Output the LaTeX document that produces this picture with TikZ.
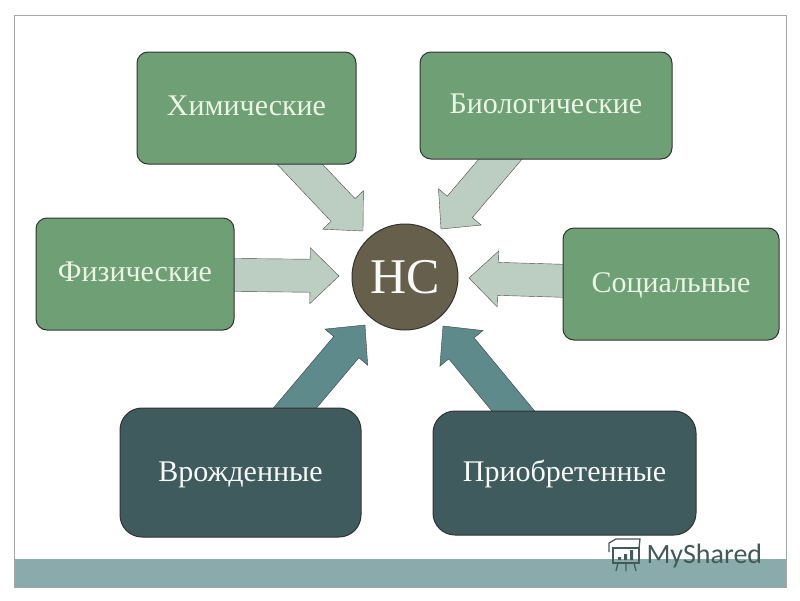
\documentclass[tikz,border=0pt]{standalone}
\usepackage{fontspec}
\setmainfont{Liberation Serif}
\newfontfamily\logofont{Carlito}
\usetikzlibrary{calc,backgrounds}
\definecolor{boxgreen}{HTML}{6E9F75}
\definecolor{boxdark}{HTML}{3F5B5E}
\definecolor{arrowlight}{HTML}{BBCEC1}
\definecolor{arrowdark}{HTML}{5F8A8C}
\definecolor{coreolive}{HTML}{665F4B}
\definecolor{barteal}{HTML}{8AABAB}
\definecolor{framegray}{HTML}{A3A8A6}
\definecolor{textpale}{HTML}{EAF5E4}
\definecolor{logogray}{HTML}{44595A}
\newcommand{\lowered}[2]{\raisebox{-#1pt}[0pt][0pt]{#2}}
\newcommand{\blockarrow}[3]{
  \coordinate (#2base) at ($(#3)!29pt!(#2)$);
  \draw[#1] ($(#2)!16.5pt!90:(#3)$) -- ($(#2base)!16.5pt!90:(#3)$)
    -- ($(#2base)!28pt!90:(#3)$) -- (#3) -- ($(#2base)!28pt!-90:(#3)$)
    -- ($(#2base)!16.5pt!-90:(#3)$) -- ($(#2)!16.5pt!-90:(#3)$) -- cycle;
}
\begin{document}
\begin{tikzpicture}[x=1pt, y=-1pt, line width=1pt,
    greenbox/.style={draw=black!80, fill=boxgreen, rounded corners=11pt, text=textpale,
      inner sep=0, font=\fontsize{30}{30}\selectfont},
    darkbox/.style={draw=black!80, fill=boxdark, rounded corners=22pt, text=white!95!boxgreen,
      inner sep=0, font=\fontsize{30}{30}\selectfont},
    lightarrow/.style={draw=black!70, fill=arrowlight},
    darkarrow/.style={draw=black!75, fill=arrowdark}]
  \useasboundingbox (0,0) rectangle (800,600);
  \fill[barteal] (14,559) rectangle (786,587);
  \draw[framegray, line width=1pt] (14,15) rectangle (786,587);

  \node[greenbox, minimum width=219pt, minimum height=112pt] (chem) at (246.5,108) {\lowered{7}{Химические}};
  \node[greenbox, minimum width=252pt, minimum height=107pt] (bio) at (546,105.5) {\lowered{7.5}{Биологические}};
  \node[greenbox, minimum width=198pt, minimum height=112pt] (phys) at (135,274) {\lowered{7}{Физические}};
  \node[greenbox, minimum width=216pt, minimum height=112pt] (soc) at (671,284) {\lowered{8}{Социальные}};
  \node[darkbox, minimum width=241pt, minimum height=129pt] (innate) at (240.5,472.5) {\lowered{8.5}{Врожденные}};
  \node[darkbox, minimum width=263pt, minimum height=124pt] (acquired) at (564.5,473) {\lowered{8}{Приобретенные}};
  \node[circle, draw=black!80, fill=coreolive, minimum size=106pt, inner sep=0, text=white!95!boxgreen,
    font=\fontsize{50}{50}\selectfont] (hc) at (405,277) {НС};

  \coordinate (chemtip) at (363,231);
  \coordinate (biotip) at (441,229);
  \coordinate (physhead) at (339,276);
  \coordinate (sochead) at (469,278);
  \coordinate (innatetip) at (365,325);
  \coordinate (acquiredtip) at (443,326);

  \begin{scope}[on background layer]
    \blockarrow{lightarrow}{chem}{chemtip}
    \blockarrow{lightarrow}{bio}{biotip}
    \blockarrow{lightarrow}{phys}{physhead}
    \blockarrow{lightarrow}{soc}{sochead}
    \blockarrow{darkarrow}{innate}{innatetip}
    \blockarrow{darkarrow}{acquired}{acquiredtip}
  \end{scope}

  % logo
  \node[anchor=base west, inner sep=0, text=logogray, font=\logofont\fontsize{28}{28}\selectfont] (logo) at (646,563) {MyShared};
  \draw[logogray, line width=1.3pt] (613,548) rectangle (639,563);
  \draw[logogray, line width=1.3pt] (609,552) -- (609,543) -- (616,539) -- (640,539) -- (639,548);
  \draw[logogray, line width=1.3pt] (618,563) -- (616,571) (626,563) -- (626,571) (634,563) -- (636,571);
  \fill[logogray] (618,557) rectangle (621,560) (624,554) rectangle (627,560) (630,550) rectangle (633,560);
\end{tikzpicture}
\end{document}
